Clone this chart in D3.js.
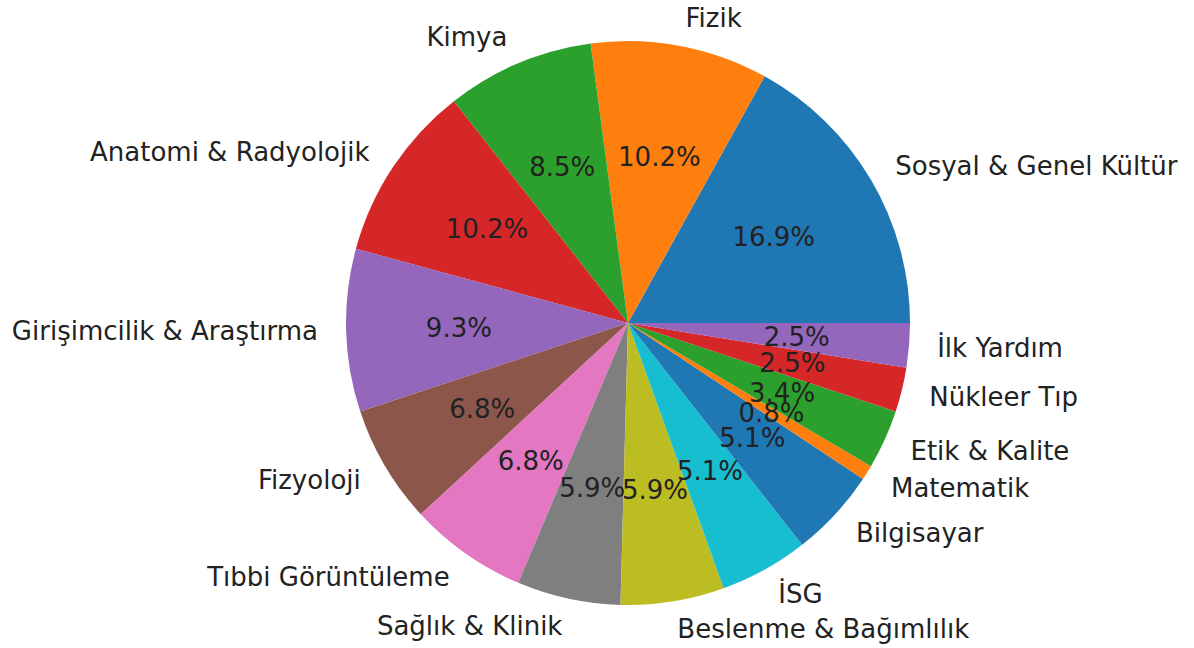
<!DOCTYPE html>
<html>
<head>
<meta charset="utf-8">
<script src="https://cdn.jsdelivr.net/npm/d3@7"></script>
<style>
  html, body { margin: 0; padding: 0; background: #fff; }
  svg text { font-family: "DejaVu Sans", sans-serif; }
</style>
</head>
<body>
<svg id="chart"></svg>
<script>
// === Dane ===
const categories = [
    "Sosyal & Genel Kültür", "Fizik", "Kimya", "Anatomi & Radyolojik",
    "Girişimcilik & Araştırma", "Fizyoloji", "Tıbbi Görüntüleme", "Sağlık & Klinik",
    "Beslenme & Bağımlılık", "İSG", "Bilgisayar", "Matematik",
    "Etik & Kalite", "Nükleer Tıp", "İlk Yardım"
];
const counts = [20, 12, 10, 12, 11, 8, 8, 7, 7, 6, 6, 1, 4, 3, 3];
const colors = ["#1f77b4", "#ff7f0e", "#2ca02c", "#d62728", "#9467bd",
    "#8c564b", "#e377c2", "#7f7f7f", "#bcbd22", "#17becf"];

const W = 1194, H = 648;
const cx = 628, cy = 323, R = 282;
const fontSize = 26;

const svg = d3.select("#chart").attr("width", W).attr("height", H);
const g = svg.append("g").attr("transform", `translate(${cx},${cy})`);

const total = d3.sum(counts);

// matplotlib: start na 3 godz., przeciwnie do wskazówek
const pie = d3.pie().sort(null).value(d => d)
    .startAngle(Math.PI / 2).endAngle(Math.PI / 2 - 2 * Math.PI);
const arcs = pie(counts);
const arcGen = d3.arc().innerRadius(0).outerRadius(R);

g.selectAll("path.slice")
    .data(arcs)
    .enter().append("path")
    .attr("class", "slice")
    .attr("d", arcGen)
    .attr("fill", (d, i) => colors[i % colors.length]);

const mid = d => (d.startAngle + d.endAngle) / 2;
const px = (d, k) => k * R * Math.sin(mid(d));
const py = (d, k) => -k * R * Math.cos(mid(d));

// etykiety kategorii
g.selectAll("text.label")
    .data(arcs)
    .enter().append("text")
    .attr("class", "label")
    .attr("x", d => px(d, 1.1))
    .attr("y", d => py(d, 1.1))
    .attr("text-anchor", d => px(d, 1.1) > 0 ? "start" : "end")
    .attr("dominant-baseline", "central")
    .attr("font-size", fontSize)
    .attr("fill", "#222")
    .text((d, i) => categories[i]);

// procenty
g.selectAll("text.pct")
    .data(arcs)
    .enter().append("text")
    .attr("class", "pct")
    .attr("x", d => px(d, 0.6))
    .attr("y", d => py(d, 0.6))
    .attr("text-anchor", "middle")
    .attr("dominant-baseline", "central")
    .attr("font-size", fontSize)
    .attr("fill", "#222")
    .text(d => (d.value / total * 100).toFixed(1) + "%");
</script>
</body>
</html>
